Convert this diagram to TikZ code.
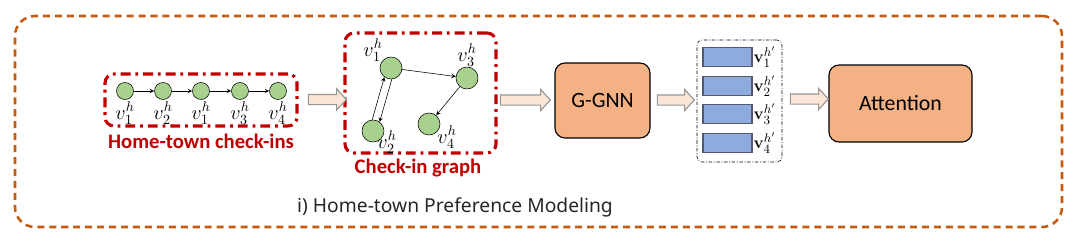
\documentclass[tikz,border=0pt]{standalone}
\usepackage[no-math]{fontspec}
\setmainfont{Carlito}
\newfontfamily\capfont{Noto Sans}
\usetikzlibrary{shapes.arrows}
\definecolor{outerorange}{RGB}{197,90,17}
\definecolor{chkred}{RGB}{192,0,0}
\definecolor{poigreen}{RGB}{169,209,142}
\definecolor{modorange}{RGB}{244,177,131}
\definecolor{embblue}{RGB}{143,170,220}
\definecolor{embgrey}{RGB}{80,90,110}
\definecolor{flowfill}{RGB}{251,229,214}
\definecolor{flowgrey}{RGB}{150,150,150}
\def\px{0.025cm}

\begin{document}
\begin{tikzpicture}[x=\px, y=-\px, >=stealth, font=\fontsize{14}{16}\selectfont,
  poi/.style={circle, draw, fill=poigreen, minimum size=17*\px, inner sep=0pt},
  bigpoi/.style={poi, minimum size=22*\px},
  module/.style={draw, fill=modorange, thick, rounded corners=10*\px,
    font=\fontsize{15.5}{18}\selectfont},
  emb/.style={draw=embgrey, fill=embblue, thick, minimum width=49*\px,
    minimum height=19*\px, inner sep=0pt},
  flow/.style={single arrow, draw=flowgrey, fill=flowfill, thick, inner xsep=0pt,
    inner ysep=4.5*\px, single arrow head extend=5.5*\px, single arrow tip angle=95},
  redbox/.style={draw=chkred, line width=2.2pt, rounded corners=9*\px,
    dash pattern=on 7pt off 3.5pt on 2pt off 3.5pt, inner sep=0pt},
  redlabel/.style={text=chkred, font=\fontsize{14.7}{17}\selectfont\bfseries}]
  \useasboundingbox (0,0) rectangle (1080,245);

  \node[draw=outerorange, line width=1.8pt, dash pattern=on 5pt off 3.5pt,
    rounded corners=20*\px, minimum width=1047*\px, minimum height=211*\px]
    (outer) at (538.5,121.5) {};
  \node[font=\capfont\fontsize{13.7}{16}\selectfont, text=black!85] (cap) at (455,207)
    {i) Home-town Preference Modeling};

  \node[redbox, minimum width=192*\px, minimum height=52*\px] (homebox) at (201,100) {};
  \foreach \i/\x/\s in {1/125/1, 2/163/2, 3/201/1, 4/240/3, 5/278/4} {
    \node[poi] (h\i) at (\x,91) {};
    \node (hl\i) at (\x,113) {$v^h_{\s}$};
  }
  \foreach \i in {1,...,4} {
    \pgfmathtruncatemacro\j{\i+1}
    \draw[->] (h\i) -- (h\j);
  }
  \node[redlabel] (homelabel) at (201,141) {Home-town check-ins};

  \node[redbox, minimum width=151*\px, minimum height=120*\px] (graphbox) at (420.5,93) {};
  \node[bigpoi] (g1) at (391,68) {};
  \node[bigpoi] (g3) at (467,78) {};
  \node[bigpoi] (g2) at (373,131) {};
  \node[bigpoi] (g4) at (429,124) {};
  \node (gl1) at (373,50) {$v^h_1$};
  \node (gl3) at (467,55) {$v^h_3$};
  \node (gl2) at (387,142) {$v^h_2$};
  \node (gl4) at (447,137) {$v^h_4$};
  \draw[->] (g1) -- (g3);
  \draw[->] (g3) -- (g4);
  \draw[->] (g2.94) -- (g1.234);
  \draw[->] (g1.274) -- (g2.54);
  \node[redlabel] (graphlabel) at (418,168) {Check-in graph};

  \node[module, minimum width=95*\px, minimum height=75*\px] (gnn) at (602.5,100.5) {G-GNN};

  \node[draw, thin, dash pattern=on 2.5pt off 1.2pt on 0.6pt off 1.2pt, rounded corners=5*\px,
    minimum width=85*\px, minimum height=122*\px] (embbox) at (739.5,101) {};
  \foreach \i/\y in {1/57, 2/86, 3/114, 4/143} {
    \node[emb] (e\i) at (727.5,\y) {};
    \node[anchor=west, inner sep=0.5pt, font=\fontsize{13}{15}\selectfont]
      (el\i) at (e\i.east) {$\mathbf{v}^{h'}_{\i}$};
  }

  \node[module, minimum width=143*\px, minimum height=77*\px] (att) at (900.5,103.5) {Attention};

  \node[flow, minimum height=38*\px] (f1) at (325,99.5) {};
  \node[flow, minimum height=50*\px] (f2) at (523,100) {};
  \node[flow, minimum height=37*\px] (f3) at (673.5,100) {};
  \node[flow, minimum height=38*\px] (f4) at (807,99) {};
\end{tikzpicture}
\end{document}
